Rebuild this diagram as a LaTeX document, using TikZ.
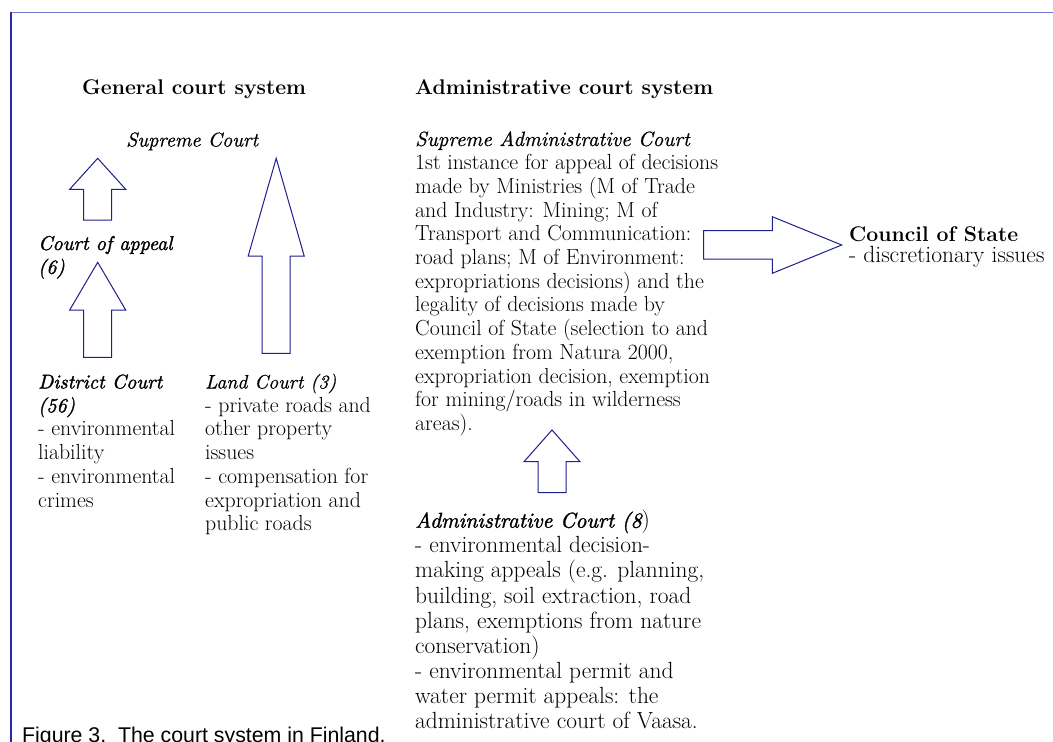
\documentclass[tikz,border=0pt]{standalone}
\usepackage{fontspec}
\newfontfamily\captionfont{Liberation Sans}
\newfontface\courtbi{lmroman10-italic.otf}[FakeBold=1.5]
\newfontface\courtit{lmroman10-italic.otf}[FakeBold=0.6]
\usepackage{tikz}
\usetikzlibrary{positioning}
\definecolor{arrowblue}{RGB}{30,30,140}
\definecolor{framelight}{RGB}{120,120,210}
\definecolor{framedark}{RGB}{40,40,170}

\begin{document}
\begin{tikzpicture}[x=1pt, y=-1pt,
    % base anchor of a multi-line node = baseline of its last line
    heading/.style={anchor=base west, inner sep=0pt, font=\fontsize{21.2}{26}\selectfont\bfseries},
    court/.style={anchor=base west, inner sep=0pt, align=left, font=\fontsize{21.8}{23.7}\selectfont},
    admcourt/.style={anchor=base west, inner sep=0pt, align=left, font=\fontsize{23.4}{25.1}\selectfont},
    blockarrow/.style={draw=arrowblue, line width=1pt, line join=miter}]
  \useasboundingbox (0,0) rectangle (1053,742);
  % frame
  \draw[framelight, line width=1pt] (11,12.5) -- (1053,12.5);
  \draw[framedark, line width=1.3pt] (11,12) -- (11,742);
  % headings
  \node[heading] (general) at (82,94) {General court system};
  \node[heading] (admin) at (415,94) {Administrative court system};
  % general court system
  \node[court] (supreme) at (126,146.5) {{\courtit\fontsize{20}{23.7}\selectfont Supreme Court}};
  \node[court] (appeal) at (38,273.7) {{\courtbi\fontsize{20}{23.7}\selectfont Court of appeal}\\{\courtbi\fontsize{20}{23.7}\selectfont (6)}};
  \node[court] (district) at (38,507) {{\courtbi\fontsize{20}{23.7}\selectfont District Court}\\{\courtbi\fontsize{20}{23.7}\selectfont (56)}\\- environmental\\liability\\- environmental\\crimes};
  \node[court] (land) at (205,530.7) {{\courtit\fontsize{19.5}{23.7}\selectfont Land Court (3)}\\- private roads and\\other property\\issues\\- compensation for\\expropriation and\\public roads};
  % administrative court system
  \node[court] (supadm) at (415,430.4) {{\courtit\fontsize{20.6}{23.7}\selectfont Supreme Administrative Court}\\1st instance for appeal of decisions\\made by Ministries (M of Trade\\and Industry: Mining; M of\\Transport and Communication:\\road plans; M of Environment:\\expropriations decisions) and the\\legality of decisions made by\\Council of State (selection to and\\exemption from Natura 2000,\\expropriation decision, exemption\\for mining/roads in wilderness\\areas).};
  \node[court, font=\fontsize{23.5}{21.3}\selectfont] (council) at (849,262.3) {{\fontsize{21.2}{21.3}\selectfont\bfseries Council of State}\\- discretionary issues};
  \node[admcourt] (admcourt) at (415,728.5) {{\courtbi\fontsize{21.5}{25.1}\selectfont Administrative Court (8})\\- environmental decision-\\making appeals (e.g. planning,\\building, soil extraction, road\\plans, exemptions from nature\\conservation)\\- environmental permit and\\water permit appeals: the\\administrative court of Vaasa.};
  % caption
  \node[anchor=base west, inner sep=0pt, font=\fontsize{21.3}{24}\captionfont] (caption) at (22,742) {Figure 3.\ \ The court system in Finland.};
  % block arrows up
  \foreach \tx/\ty/\hb/\yb in {97.7/158.3/189.3/220, 97.7/262.3/310/357.3, 276.2/158.3/256/353.3, 552/430/461.7/492.7}
    \draw[blockarrow] (\tx,\ty) -- ({\tx+28},\hb) -- ({\tx+14},\hb) -- ({\tx+14},\yb)
      -- ({\tx-14},\yb) -- ({\tx-14},\hb) -- ({\tx-28},\hb) -- cycle;
  % block arrow to the council
  \draw[blockarrow] (703.5,230.7) -- (772.3,230.7) -- (772.3,216.7) -- (841.7,245)
    -- (772.3,273.3) -- (772.3,259) -- (703.5,259) -- cycle;
\end{tikzpicture}
\end{document}
